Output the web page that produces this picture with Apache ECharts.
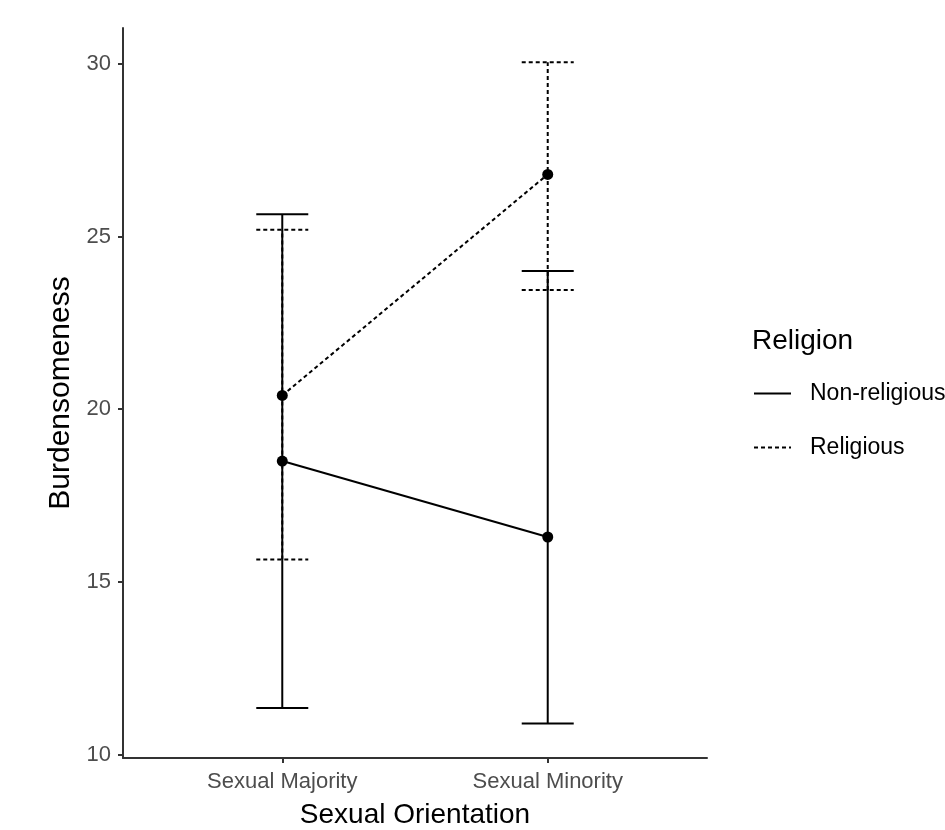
<!DOCTYPE html>
<html>
<head>
<meta charset="utf-8">
<script src="https://cdn.jsdelivr.net/npm/echarts@6/dist/echarts.min.js"></script>
<style>
  html, body { margin: 0; padding: 0; background: #fff; }
  #chart { width: 945px; height: 830px; }
</style>
</head>
<body>
<div id="chart"></div>
<script>
// categories sit at x = 1 and 2 on a value axis (ggplot style padding)
var categories = ['Sexual Majority', 'Sexual Minority']
var catPos = [1, 2]
var yTicks = [10, 15, 20, 25, 30]

var nonRelMean = [18.5, 16.3]
var nonRelLow = [11.35, 10.9]
var nonRelHigh = [25.65, 24.0]

var relMean = [20.4, 26.8]
var relLow = [15.65, 23.45]
var relHigh = [25.2, 30.05]

var FONT = 'Liberation Sans, Arial, sans-serif'

function pairs(xs, ys) {
    return xs.map(function (x, i) { return [x, ys[i]] })
}
function bars(lo, hi) {
    return catPos.map(function (x, i) { return [x, lo[i], hi[i]] })
}

// error bar: vertical line plus two caps
function errorBar(dash) {
    return function (params, api) {
        var x = api.value(0)
        var lo = api.coord([x, api.value(1)])
        var hi = api.coord([x, api.value(2)])
        var half = 26
        var style = { stroke: '#000', lineWidth: 2, lineDash: dash }
        return {
            type: 'group',
            children: [
                { type: 'line', shape: { x1: lo[0], y1: lo[1], x2: hi[0], y2: hi[1] }, style: style },
                { type: 'line', shape: { x1: lo[0] - half, y1: lo[1], x2: lo[0] + half, y2: lo[1] }, style: style },
                { type: 'line', shape: { x1: hi[0] - half, y1: hi[1], x2: hi[0] + half, y2: hi[1] }, style: style }
            ]
        }
    }
}

var myChart = echarts.init(document.getElementById('chart'))
myChart.setOption({
    animation: false,
    backgroundColor: '#fff',
    textStyle: { fontFamily: FONT },
    grid: { left: 123, right: 238, top: 28, bottom: 72, containLabel: false, outerBoundsMode: 'none' },
    legend: {
        orient: 'vertical',
        left: 753,
        top: 382,
        padding: 0,
        data: ['Non-religious', 'Religious'],
        itemWidth: 37,
        itemHeight: 20,
        itemGap: 31,
        itemStyle: { opacity: 0 },
        textStyle: { fontFamily: FONT, fontSize: 23, color: '#000', lineHeight: 20, padding: [0, 0, 0, 14] }
    },
    graphic: [{
        type: 'text', left: 752, top: 327,
        style: { text: 'Religion', font: '28px ' + FONT, fill: '#000' }
    }],
    xAxis: {
        type: 'value',
        min: 0.4,
        max: 2.6,
        name: 'Sexual Orientation',
        nameLocation: 'middle',
        nameGap: 43,
        nameTextStyle: { fontFamily: FONT, fontSize: 28, color: '#000' },
        axisLine: { onZero: false, lineStyle: { color: '#333', width: 2 } },
        axisTick: { show: true, length: 5, customValues: catPos, lineStyle: { color: '#333', width: 2 } },
        axisLabel: {
            customValues: catPos,
            fontFamily: FONT, fontSize: 22, color: '#4d4d4d', margin: 13,
            formatter: function (v) { return categories[catPos.indexOf(v)] }
        },
        splitLine: { show: false }
    },
    yAxis: {
        type: 'value',
        min: 9.9,
        max: 31.04,
        name: 'Burdensomeness',
        nameLocation: 'middle',
        nameGap: 43,
        nameTextStyle: { fontFamily: FONT, fontSize: 30, color: '#000' },
        axisLine: { show: true, lineStyle: { color: '#333', width: 2 } },
        axisTick: { show: true, length: 5, customValues: yTicks, lineStyle: { color: '#333', width: 2 } },
        axisLabel: { customValues: yTicks, fontFamily: FONT, fontSize: 22, color: '#4d4d4d', margin: 12 },
        splitLine: { show: false }
    },
    series: [
        {
            name: 'Non-religious',
            type: 'line',
            data: pairs(catPos, nonRelMean),
            symbol: 'circle',
            symbolSize: 11,
            itemStyle: { color: '#000' },
            lineStyle: { color: '#000', width: 2, type: 'solid' },
            z: 5
        },
        {
            name: 'Religious',
            type: 'line',
            data: pairs(catPos, relMean),
            symbol: 'circle',
            symbolSize: 11,
            itemStyle: { color: '#000' },
            lineStyle: { color: '#000', width: 2, type: [4, 3] },
            z: 5
        },
        {
            name: 'nonRelErr',
            type: 'custom',
            renderItem: errorBar(null),
            data: bars(nonRelLow, nonRelHigh),
            encode: { x: 0, y: [1, 2] },
            silent: true
        },
        {
            name: 'relErr',
            type: 'custom',
            renderItem: errorBar([4, 3]),
            data: bars(relLow, relHigh),
            encode: { x: 0, y: [1, 2] },
            silent: true
        }
    ]
})
window.addEventListener('resize', myChart.resize)
</script>
</body>
</html>
